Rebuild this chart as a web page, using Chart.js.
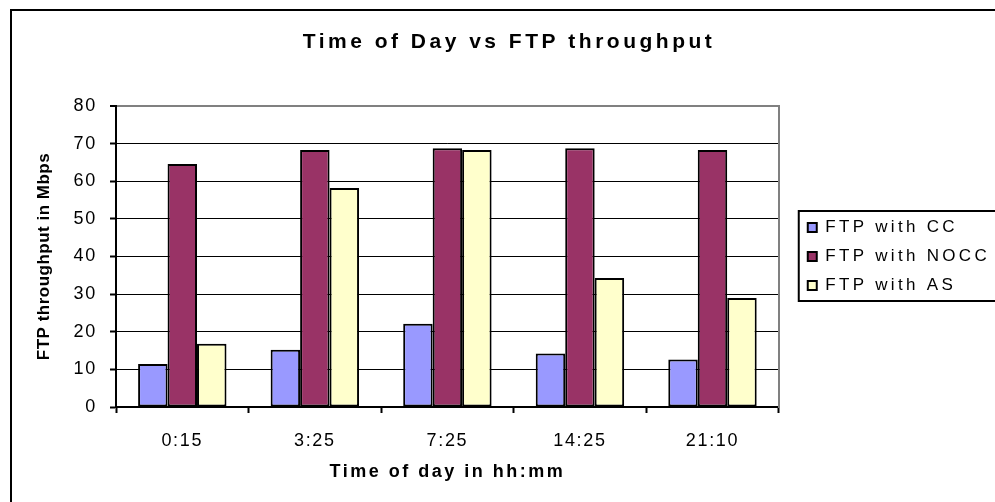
<!DOCTYPE html>
<html>
<head>
<meta charset="utf-8">
<script src="https://cdn.jsdelivr.net/npm/chart.js@4/dist/chart.umd.min.js"></script>
<style>
  html, body { margin: 0; padding: 0; background: #fff; overflow: hidden; }
  #frame { position: absolute; left: 10px; top: 9px; right: -20px; bottom: -20px;
           border-left: 2px solid #000; border-top: 2px solid #000; }
  #chart { position: absolute; left: 0; top: 0; }
</style>
</head>
<body>
<div id="frame"></div>
<canvas id="chart" width="1005" height="502"></canvas>
<script>
// horas do dia (hh:mm)
const timeLabels = ["0:15", "3:25", "7:25", "14:25", "21:10"];
const ftpCC   = [11.4, 15.2, 22.1, 14.2, 12.6];
const ftpNOCC = [64.6, 68.3, 68.8, 68.8, 68.3];
const ftpAS   = [16.8, 58.2, 68.3, 34.3, 29.0];
const yMin = 0, yMax = 80, yStep = 10;

const FONT = "'Liberation Sans', Arial, sans-serif";
Chart.defaults.font.family = FONT;
Chart.defaults.color = "#000";

// caixa da legenda (estilo Excel)
const legendBox = {
  id: "legendBox",
  afterDraw(chart) {
    const lg = chart.legend;
    const hb = lg.legendHitBoxes;
    if (!hb || !hb.length) return;
    const ctx = chart.ctx;
    const top = hb[0].top - 8;
    const last = hb[hb.length - 1];
    const bottom = last.top + last.height + 7;
    ctx.save();
    ctx.strokeStyle = "#000";
    ctx.lineWidth = 2;
    ctx.strokeRect(lg.left + 3, top, chart.width, bottom - top);
    ctx.restore();
  }
};

const chart = new Chart(document.getElementById("chart"), {
  type: "bar",
  data: {
    labels: timeLabels,
    datasets: [
      { label: "FTP with CC", data: ftpCC, backgroundColor: "#9999FF" },
      { label: "FTP with NOCC", data: ftpNOCC, backgroundColor: "#993366" },
      { label: "FTP with AS", data: ftpAS, backgroundColor: "#FFFFCC" }
    ]
  },
  options: {
    responsive: false,
    animation: false,
    layout: { padding: { left: 18, right: 5, top: 10, bottom: 8 } },
    datasets: {
      bar: {
        borderColor: "#000",
        borderWidth: 2,
        borderSkipped: false,
        barPercentage: 1,
        categoryPercentage: 0.667
      }
    },
    plugins: {
      title: {
        display: true,
        text: "Time of Day vs FTP throughput",
        color: "#000",
        font: { size: 21, weight: "bold" },
        padding: { top: 19.4, bottom: 51.4 }
      },
      legend: {
        position: "right",
        fullSize: false,
        align: "center",
        maxWidth: 400,
        labels: { color: "#000", font: { size: 17 }, boxWidth: 9, boxHeight: 9, padding: 12 }
      },
      tooltip: { enabled: false }
    },
    scales: {
      x: {
        grid: { display: true, drawOnChartArea: false, drawTicks: true, tickLength: 6,
                color: "#000", tickColor: "#000", tickWidth: 2, offset: true },
        border: { display: true, color: "#000", width: 2 },
        ticks: { color: "#000", font: { size: 18 }, padding: 17 },
        title: { display: true, text: "Time of day in hh:mm", color: "#000",
                 font: { size: 18, weight: "bold" }, padding: { top: -6.9, bottom: 10.7 } }
      },
      y: {
        min: yMin,
        max: yMax,
        ticks: { stepSize: yStep, color: "#000", font: { size: 18 }, padding: 13 },
        grid: {
          color: (c) => (c.tick && c.tick.value === yMax ? "#808080" : "#000"),
          lineWidth: (c) => (c.tick && c.tick.value === yMax ? 2 : 1),
          tickLength: 6, tickColor: "#000", tickWidth: 2
        },
        border: { display: true, color: "#000", width: 2 },
        title: { display: true, text: "FTP throughput in Mbps", color: "#000",
                 font: { size: 17, weight: "bold" }, padding: { top: 15.8, bottom: 9.8 } }
      },
      // borda direita cinza + espaço antes da legenda
      gap: {
        type: "linear", position: "right", weight: 0, display: true,
        grid: { display: false, drawTicks: false },
        ticks: { display: false },
        border: { display: true, color: "#808080", width: 2 },
        afterFit: (s) => { s.width = 17; }
      }
    }
  },
  plugins: [legendBox]
});

// espaçamento entre letras como no Excel
function spaced(obj, method, spacing) {
  const orig = obj[method];
  obj[method] = function (...args) {
    const ctx = this.ctx;
    const prev = ctx.letterSpacing;
    ctx.letterSpacing = spacing;
    const r = orig.apply(this, args);
    ctx.letterSpacing = prev || "0px";
    return r;
  };
}
spaced(chart.titleBlock, "draw", "3.5px");
spaced(chart.legend, "fit", "3.3px");
spaced(chart.legend, "draw", "3.3px");
spaced(chart.scales.x, "drawLabels", "1.7px");
spaced(chart.scales.y, "drawLabels", "1.7px");
spaced(chart.scales.x, "drawTitle", "2.5px");
spaced(chart.scales.y, "drawTitle", "0.5px");
chart.update();
</script>
</body>
</html>
